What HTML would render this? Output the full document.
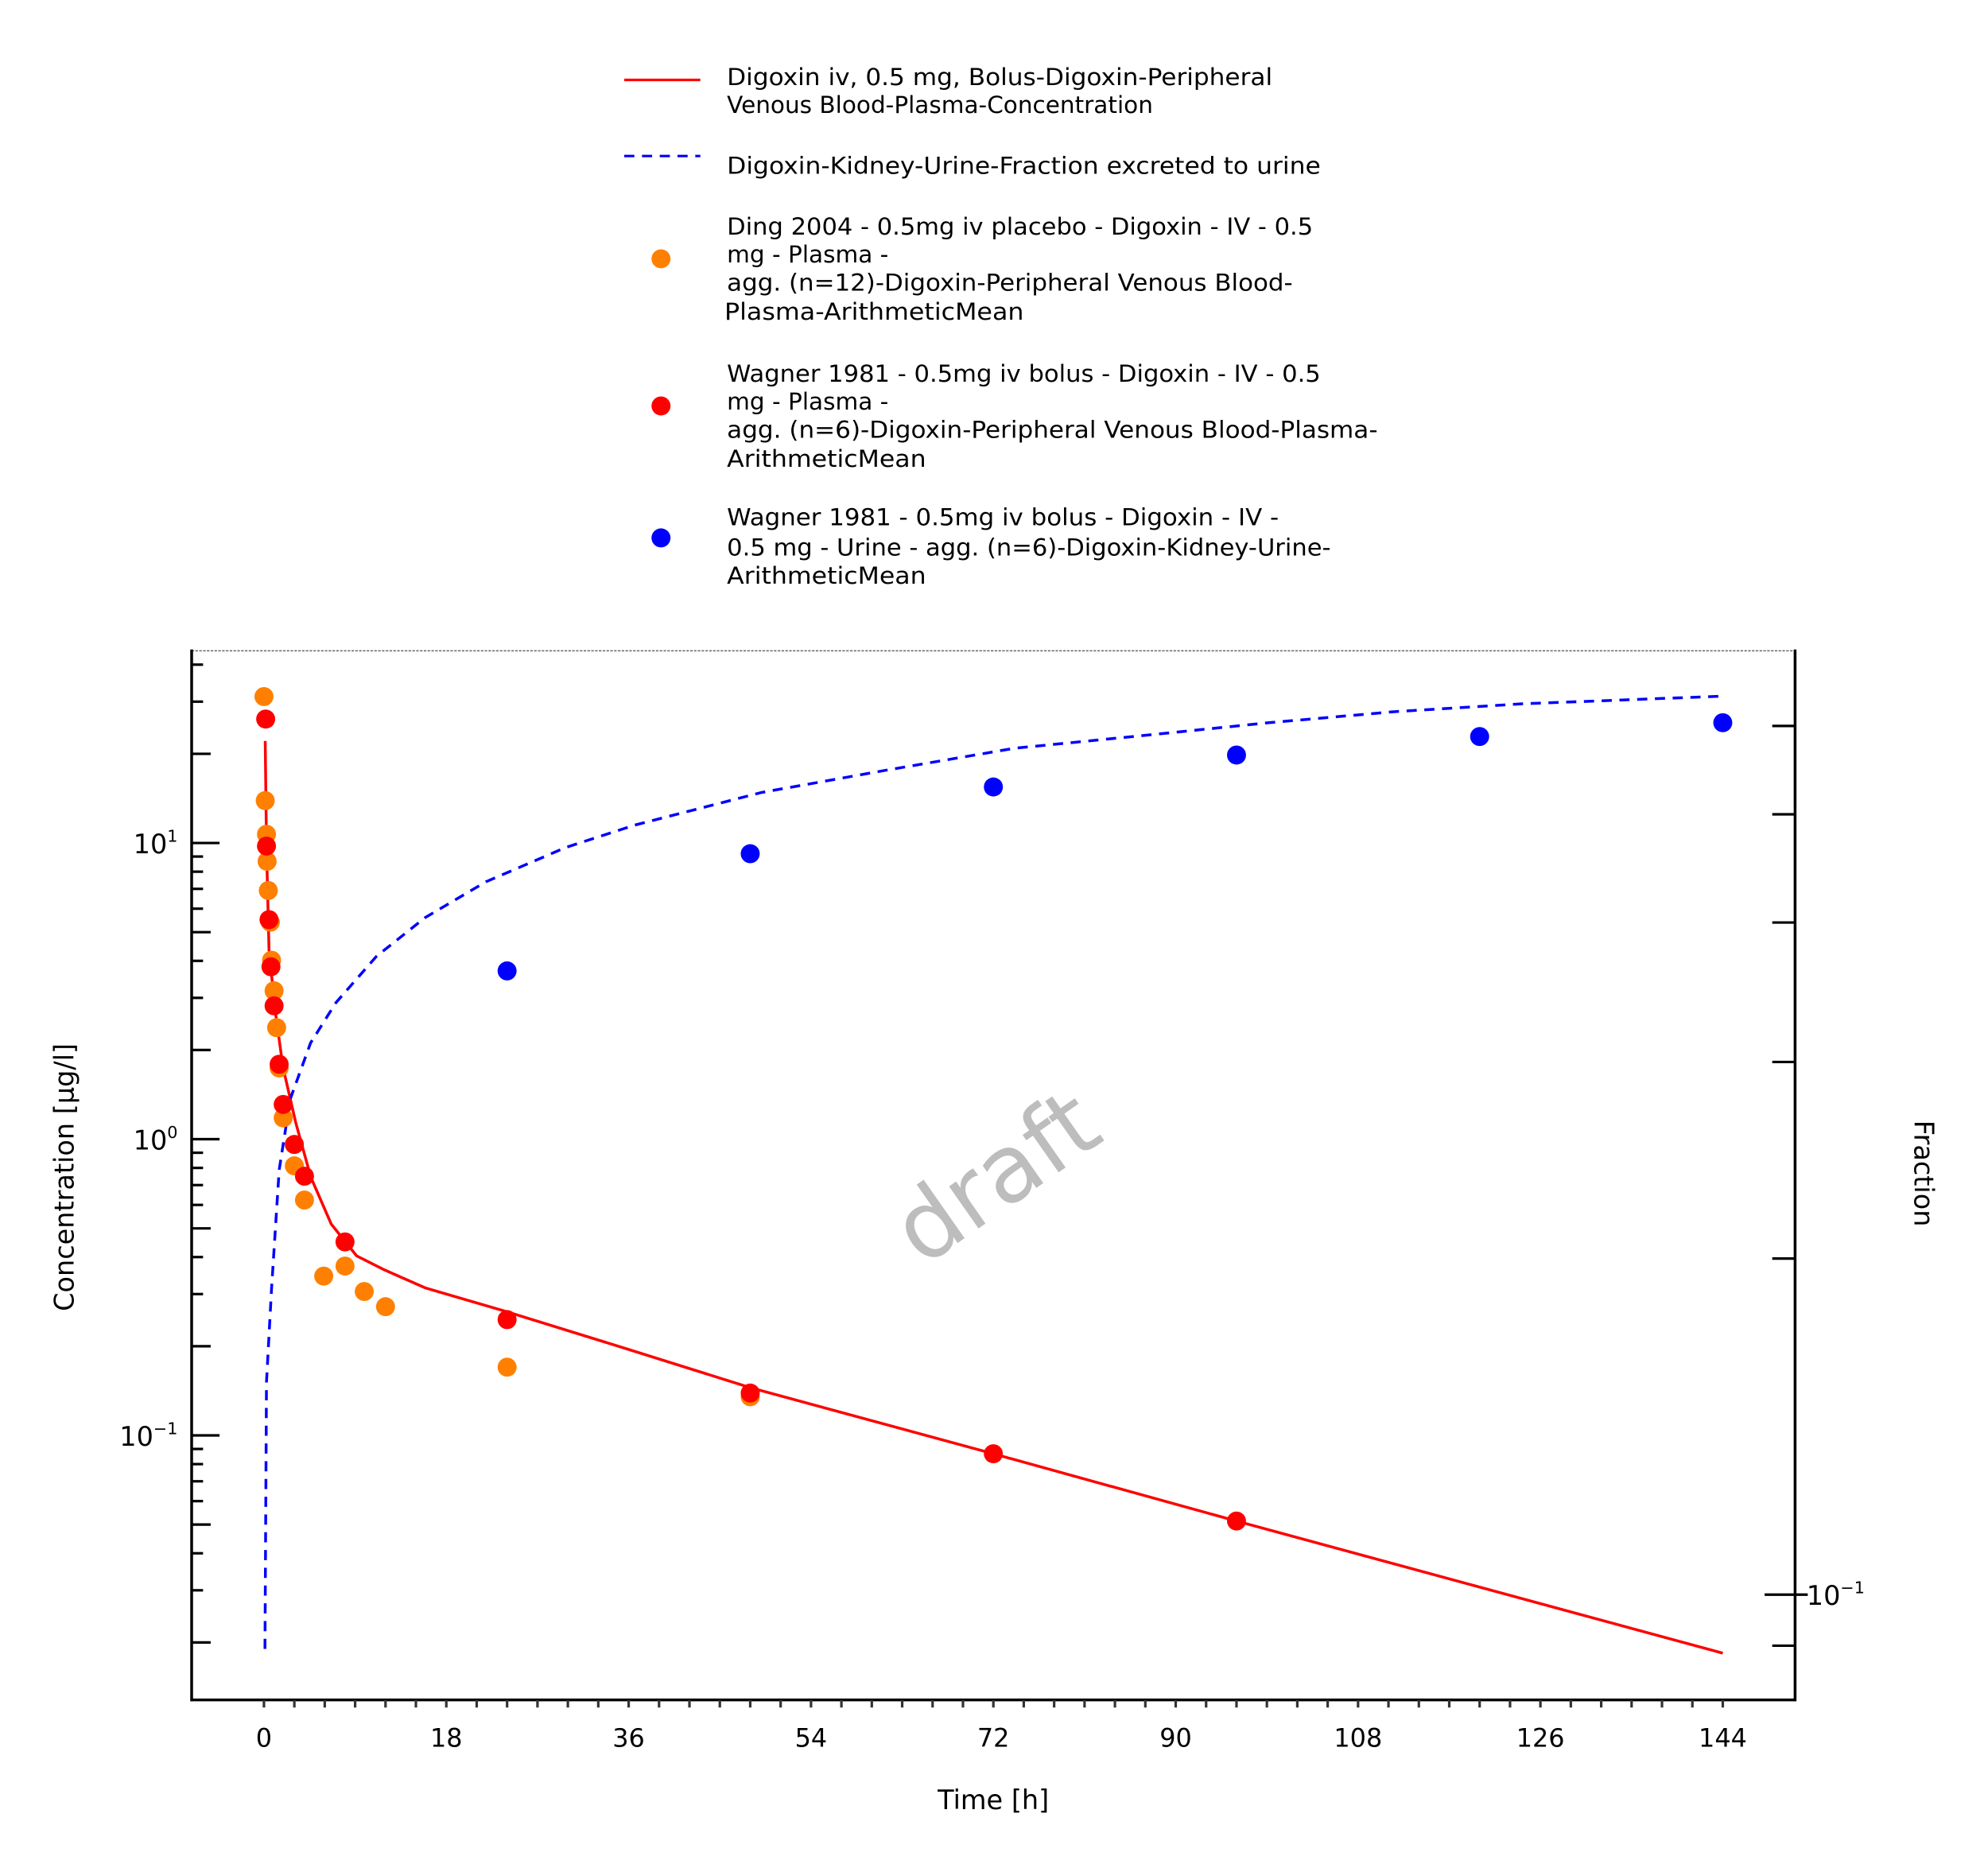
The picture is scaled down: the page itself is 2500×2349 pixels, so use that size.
<!DOCTYPE html>
<html><head><meta charset="utf-8"><style>
html,body{margin:0;padding:0;background:#fff;}
svg{display:block;font-family:"DejaVu Sans","Liberation Sans",sans-serif;}
</style></head><body>
<svg id="chart" width="2500" height="2349" viewBox="0 0 1567 1472.5" xmlns="http://www.w3.org/2000/svg">
<defs><clipPath id="pc"><rect x="151" y="513" width="1264" height="827"/></clipPath></defs>
<rect width="1567" height="1472.5" fill="#fff"/>
<g id="legend" font-size="18.5" fill="#000">
  <g>
    <line x1="492" y1="63" x2="552" y2="63" stroke="#f00" stroke-width="2"/>
    <text x="573" y="67" textLength="430" lengthAdjust="spacingAndGlyphs">Digoxin iv, 0.5 mg, Bolus-Digoxin-Peripheral</text>
    <text x="573" y="89">Venous Blood-Plasma-Concentration</text>
  </g>
  <g>
    <line x1="492" y1="123" x2="552" y2="123" stroke="#00f" stroke-width="2" stroke-dasharray="8,6"/>
    <text x="573" y="137" textLength="468" lengthAdjust="spacingAndGlyphs">Digoxin-Kidney-Urine-Fraction excreted to urine</text>
  </g>
  <g>
    <circle cx="521" cy="204" r="7.5" fill="#ff8000"/>
    <text x="573" y="185" textLength="462" lengthAdjust="spacingAndGlyphs">Ding 2004 - 0.5mg iv placebo - Digoxin - IV - 0.5</text>
    <text x="573" y="207">mg - Plasma -</text>
    <text x="573" y="229" textLength="446" lengthAdjust="spacingAndGlyphs">agg. (n=12)-Digoxin-Peripheral Venous Blood-</text>
    <text x="571" y="252" textLength="236" lengthAdjust="spacingAndGlyphs">Plasma-ArithmeticMean</text>
  </g>
  <g>
    <circle cx="521" cy="320" r="7.5" fill="#f00"/>
    <text x="573" y="301" textLength="468" lengthAdjust="spacingAndGlyphs">Wagner 1981 - 0.5mg iv bolus - Digoxin - IV - 0.5</text>
    <text x="573" y="323">mg - Plasma -</text>
    <text x="573" y="345" textLength="513" lengthAdjust="spacingAndGlyphs">agg. (n=6)-Digoxin-Peripheral Venous Blood-Plasma-</text>
    <text x="573" y="368" textLength="157" lengthAdjust="spacingAndGlyphs">ArithmeticMean</text>
  </g>
  <g>
    <circle cx="521" cy="424" r="7.5" fill="#00f"/>
    <text x="573" y="414" textLength="435" lengthAdjust="spacingAndGlyphs">Wagner 1981 - 0.5mg iv bolus - Digoxin - IV -</text>
    <text x="573" y="438" textLength="476" lengthAdjust="spacingAndGlyphs">0.5 mg - Urine - agg. (n=6)-Digoxin-Kidney-Urine-</text>
    <text x="573" y="460" textLength="157" lengthAdjust="spacingAndGlyphs">ArithmeticMean</text>
  </g>
</g>
<text x="0" y="0" transform="translate(788,932) rotate(-35)" text-anchor="middle" dominant-baseline="middle" font-size="74" fill="#bdbdbd">draft</text>
<g id="axes"></g>
<g id="marks" clip-path="url(#pc)"></g>
<text x="783" y="1426" text-anchor="middle" font-size="21">Time [h]</text>
<text transform="translate(58,928) rotate(-90)" text-anchor="middle" font-size="21">Concentration [µg/l]</text>
<text transform="translate(1509,925) rotate(90)" text-anchor="middle" font-size="21">Fraction</text>
</svg>
<script>
const simTime = [0.125,0.25,0.5,1.13,1.88,3.13,4.63,6.64,9.14,11.9,15.9,23.9,35.4,48,72,96,144];
const simConc = [22.1,9.76,4.35,2.68,1.75,1.14,0.744,0.517,0.404,0.362,0.315,0.262,0.198,0.145,0.0867,0.0514,0.0184];
const fracTime = [0.1,0.25,0.75,1.5,2.6,4.6,7.1,11.1,15.9,21.9,29.8,36.6,49.1,61.6,74.1,86.6,99.2,111.7,124.2,144];
const fracVal = [0.0894,0.155,0.188,0.240,0.278,0.312,0.339,0.373,0.404,0.435,0.467,0.489,0.523,0.548,0.573,0.588,0.604,0.618,0.628,0.638];
const dingTime = [0,0.125,0.25,0.31,0.43,0.63,0.75,1,1.25,1.5,1.9,3,4,5.9,8,9.9,12,24,48];
const dingConc = [31.2,13.9,10.7,8.67,6.91,5.40,4.02,3.17,2.38,1.74,1.18,0.813,0.623,0.345,0.373,0.306,0.272,0.170,0.135];
const wagTime = [0.17,0.25,0.5,0.69,1,1.5,1.9,3,4,8,24,48,72,96];
const wagConc = [26.2,9.76,5.51,3.82,2.82,1.79,1.31,0.96,0.75,0.45,0.246,0.139,0.0867,0.0514];
const urTime = [24,48,72,96,120,144];
const urFrac = [0.362,0.461,0.529,0.565,0.587,0.604];
const xTicks = [0,18,36,54,72,90,108,126,144];
const yTicks = [10,1,0.1];
const yTickLabels = ["1","0","\u22121"];

const X = t => 208 + t*(1150/144);
const Y = v => 898 - 233.5*Math.log10(v);
const YR = v => 1257 - 880*Math.log10(v/0.1);
const NS = "http://www.w3.org/2000/svg";
function mk(tag, attrs, parent){const e=document.createElementNS(NS,tag);for(const k in attrs)e.setAttribute(k,attrs[k]);parent.appendChild(e);return e;}
const axes = document.getElementById('axes'), marks = document.getElementById('marks');

let a = mk('line',{x1:151,y1:513,x2:1415,y2:513,stroke:'#666','stroke-width':1,'stroke-dasharray':'2,1'},axes);
 
a = mk('line',{x1:151,y1:512,x2:151,y2:1341,stroke:'#000','stroke-width':2.2},axes);
 
a = mk('line',{x1:150,y1:1340,x2:1416,y2:1340,stroke:'#000','stroke-width':2.2},axes);
 
a = mk('line',{x1:1415,y1:512,x2:1415,y2:1341,stroke:'#000','stroke-width':2.2},axes);
 

for(let t=0;t<=144;t+=3){
  const tk = mk('line',{x1:X(t),y1:1340,x2:X(t),y2:1346,stroke:'#333','stroke-width':2},axes);
   
}
xTicks.forEach(t=>{
  const tx = mk('text',{x:X(t),y:1377,'text-anchor':'middle','font-size':20},axes);
   
  tx.textContent = t;
});
for(let e=-2;e<=1;e++){
  for(let m=1;m<=9;m++){
    const v = m*Math.pow(10,e); const y = Y(v);
    if(y<513||y>1340) continue;
    const len = m===1?22:(m===2||m===5?15:9);
    const tk = mk('line',{x1:151,y1:y,x2:151+len,y2:y,stroke:'#000','stroke-width':2},axes);
     
  }
}
yTicks.forEach((v,i)=>{
  const tx = mk('text',{x:140,y:Y(v)+8,'text-anchor':'end','font-size':21},axes);
   
  tx.textContent = '10';
  const sp = mk('tspan',{dy:-9,'font-size':13},tx); sp.textContent = yTickLabels[i];
});
for(let m=1;m<=9;m++){
  [0.01,0.1].forEach(b=>{
    const v=m*b; const y=YR(v);
    if(y<515||y>1340) return;
    const major = (v===0.1);
    const tk = mk('line',{x1:major?1391:1397,y1:y,x2:major?1425:1415,y2:y,stroke:'#000','stroke-width':2},axes);
     
  });
}
let rl = mk('text',{x:1424,y:YR(0.1)+8,'font-size':21},axes);
 
rl.textContent='10'; let rs=mk('tspan',{dy:-9,'font-size':13},rl); rs.textContent='\u22121';

let p = mk('path',{d:simTime.map((t,i)=>(i?'L':'M')+X(t)+','+Y(simConc[i])).join(''),fill:'none',stroke:'#f00','stroke-width':2.2,'stroke-linejoin':'round'},marks);
 
p = mk('path',{d:fracTime.map((t,i)=>(i?'L':'M')+X(t)+','+YR(fracVal[i])).join(''),fill:'none',stroke:'#00f','stroke-width':2.2,'stroke-dasharray':'8,6'},marks);
 

dingTime.forEach((t,i)=>{
  const c = mk('circle',{cx:X(t),cy:Y(dingConc[i]),r:7.5,fill:'#ff8000'},marks);
   
});
wagTime.forEach((t,i)=>{
  const c = mk('circle',{cx:X(t),cy:Y(wagConc[i]),r:7.5,fill:'#f00'},marks);
   
});
urTime.forEach((t,i)=>{
  const c = mk('circle',{cx:X(t),cy:YR(urFrac[i]),r:7.5,fill:'#00f'},marks);
   
});
</script>
</body></html>
